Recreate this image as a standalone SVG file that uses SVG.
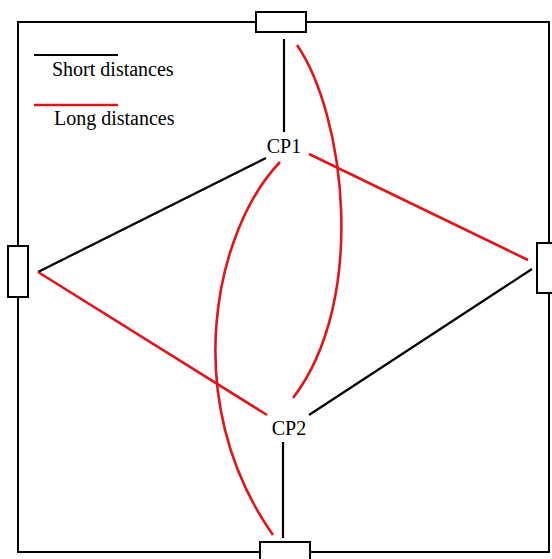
<svg xmlns="http://www.w3.org/2000/svg" width="552" height="559" viewBox="0 0 552 559">
<style>
.frame{fill:none;stroke:#000;stroke-width:2}
.box{fill:#fff;stroke:#000;stroke-width:2}
.short{fill:none;stroke:#000;stroke-width:2.2}
.long{fill:none;stroke:#e0161b;stroke-width:2.6}
.lbl{font-family:'Liberation Serif','DejaVu Serif',serif;font-size:20px;fill:#000}
</style>
<rect class="frame" x="18" y="22" width="531" height="530"/>
<g id="legend">
<line class="short" x1="34" y1="55" x2="118" y2="55"/>
<text class="lbl" x="52" y="76" font-family="Liberation Serif, serif" font-size="20.5">Short distances</text>
<line class="long" x1="34" y1="105" x2="118" y2="105"/>
<text class="lbl" x="54" y="125" font-family="Liberation Serif, serif" font-size="20.5">Long distances</text>
</g>
<g id="connectors">
<line class="short" x1="284" y1="39" x2="284" y2="132"/>
<line class="short" x1="283" y1="442" x2="283" y2="538"/>
<line class="short" x1="266" y1="158" x2="38" y2="272"/>
<line class="short" x1="309" y1="415" x2="532" y2="269"/>
<line class="long" x1="38" y1="272" x2="267" y2="415"/>
<line class="long" x1="309" y1="154" x2="528" y2="260"/>
<path class="long" d="M297,45 C345,115 368,300 293,398"/>
<path class="long" d="M280,162 C215,230 178,400 273,535"/>
</g>
<g id="port-top"><rect class="box" x="256" y="12" width="50" height="20"/></g>
<g id="port-left"><rect class="box" x="8" y="246" width="20" height="51"/></g>
<g id="port-right"><rect class="box" x="537" y="243" width="20" height="50"/></g>
<g id="port-bottom"><rect class="box" x="260" y="542" width="50" height="20"/></g>
<g id="cp1"><text class="lbl" x="284" y="153" text-anchor="middle" font-family="Liberation Serif, serif">CP1</text></g>
<g id="cp2"><text class="lbl" x="289" y="435" text-anchor="middle" font-family="Liberation Serif, serif">CP2</text></g>
</svg>
